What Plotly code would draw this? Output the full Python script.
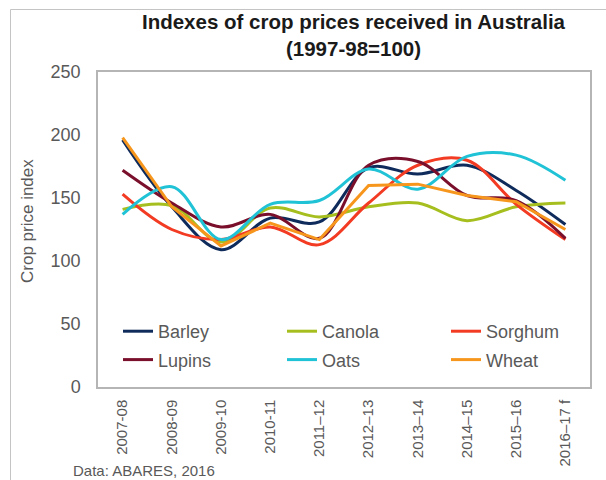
import plotly.graph_objects as go

# ---------------- data ----------------
categories = ["2007-08", "2008-09", "2009-10", "2010-11", "2011–12",
              "2012–13", "2013–14", "2014–15", "2015–16", "2016–17 f"]
barley = [196, 143, 109, 134, 131, 174, 169, 176, 156, 129]
canola = [141, 144, 115, 142, 135, 143, 146, 132, 143, 146]
sorghum = [153, 125, 117, 127, 113, 146, 176, 180, 145, 117]
lupins = [172, 146, 127, 137, 118, 176, 179, 152, 148, 118]
oats = [137, 159, 117, 145, 148, 173, 157, 183, 184, 164]
wheat = [198, 143, 112, 130, 117, 160, 161, 152, 147, 125]
y_ticks = [0, 50, 100, 150, 200, 250]

title_text = "Indexes of crop prices received in Australia<br>(1997-98=100)"
y_title = "Crop price index"
source_text = "Data: ABARES, 2016"

# ---------------- layout helpers ----------------
W, H = 606, 480
L, R, T, B = 98, 16, 72, 93
PW, PH = W - L - R, H - T - B
FONT = "Liberation Sans, Arial, Helvetica, sans-serif"
GREY = "#595959"


def px_x(p):
    return (p - L) / PW


def px_y(p):
    return (H - B - p) / PH


series = [
    ("Barley", barley, "#0f2b5b", "spline", "legend"),
    ("Canola", canola, "#a6bf1f", "spline", "legend2"),
    ("Sorghum", sorghum, "#f23b22", "spline", "legend3"),
    ("Lupins", lupins, "#7a0f2c", "spline", "legend"),
    ("Oats", oats, "#20c2d6", "spline", "legend2"),
    ("Wheat", wheat, "#f7961d", "linear", "legend3"),
]

fig = go.Figure()
for name, vals, color, shape, leg in series:
    fig.add_trace(go.Scatter(
        x=categories, y=vals, name=name, mode="lines",
        line=dict(color=color, width=3, shape=shape,
                  smoothing=1 if shape == "spline" else None),
        legend=leg, legendgroup=name,
    ))

leg_common = dict(
    xanchor="left", yanchor="top", tracegroupgap=2,
    font=dict(family=FONT, size=18, color=GREY),
    bgcolor="rgba(0,0,0,0)", orientation="v",
)
legend_top = 313

fig.update_layout(
    width=W, height=H,
    margin=dict(l=L, r=R, t=T, b=B, pad=0),
    paper_bgcolor="white", plot_bgcolor="white",
    font=dict(family=FONT, color=GREY),
    showlegend=True,
    title=dict(text=title_text, x=353.5 / W, xanchor="center", xref="container",
               y=1 - 29 / H, yanchor="top", yref="container",
               font=dict(family=FONT, size=20.5, color="#1a1a1a", weight="bold")),
    legend=dict(x=px_x(118), y=px_y(legend_top), **leg_common),
    legend2=dict(x=px_x(282), y=px_y(legend_top), **leg_common),
    legend3=dict(x=px_x(446), y=px_y(legend_top), **leg_common),
    xaxis=dict(
        type="category", range=[-0.5, len(categories) - 0.5],
        showgrid=False, zeroline=False, ticks="",
        showline=True, linecolor="#b5b5b5", linewidth=1.5, mirror=True,
        tickangle=-90, tickfont=dict(family=FONT, size=15, color=GREY),
        ticklabelstandoff=5,
    ),
    yaxis=dict(
        range=[0, 250], tickvals=y_ticks, showgrid=False, zeroline=False,
        ticks="", showline=True, linecolor="#b5b5b5", linewidth=1.5, mirror=True,
        tickfont=dict(family=FONT, size=18, color=GREY),
        ticklabelstandoff=12,
    ),
    annotations=[
        dict(text=y_title, xref="paper", yref="paper", x=px_x(27), y=px_y(221),
             xanchor="center", yanchor="middle", textangle=-90, showarrow=False,
             font=dict(family=FONT, size=17, color=GREY)),
        dict(text=source_text, xref="paper", yref="paper", x=px_x(71), y=px_y(470),
             xanchor="left", yanchor="middle", showarrow=False,
             font=dict(family=FONT, size=15, color=GREY)),
    ],
    shapes=[
        dict(type="rect", xref="paper", yref="paper",
             x0=px_x(10.5), x1=px_x(W + 20), y0=px_y(H + 20), y1=px_y(9.5),
             line=dict(color="#c4c4c4", width=1), fillcolor="rgba(0,0,0,0)",
             layer="below"),
    ],
)

fig.write_html("out.html",
               config={"displayModeBar": False},
               post_script="document.body.style.margin='0';"
                           "document.body.style.overflow='hidden';")
